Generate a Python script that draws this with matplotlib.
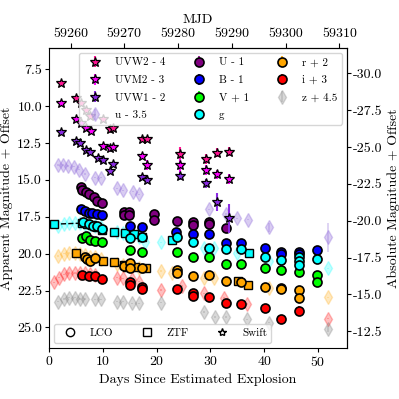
import matplotlib
matplotlib.use("Agg")
import matplotlib.pyplot as plt
import numpy as np
from matplotlib.ticker import FuncFormatter, MultipleLocator
from matplotlib.lines import Line2D

plt.rcParams['font.family'] = 'serif'
plt.rcParams['font.serif'] = ['cmr10']
plt.rcParams['mathtext.fontset'] = 'cm'
plt.rcParams['axes.formatter.use_mathtext'] = True
plt.rcParams['axes.unicode_minus'] = False

MJD0 = 59256.0
DM = 37.77

# ---------------- Swift (stars) ----------------
w2_days = [2.2, 5.0, 5.9, 6.9, 7.7, 10.1, 11.4, 11.9, 17.2, 18.2, 24.4, 29.1, 31.2, 33.4]
w2_mag = [8.45, 9.47, 9.8, 10.26, 10.65, 10.9, 11.57, 11.46, 12.25, 12.25, 13.24, 13.6, 13.15, 13.09]
w2_err = [0.08, 0.08, 0.08, 0.08, 0.08, 0.08, 0.1, 0.1, 0.15, 0.15, 0.5, 0.35, 0.3, 0.3]

m2_days = [2.2, 5.1, 5.9, 6.9, 7.8, 10.1, 11.4, 11.9, 17.2, 18.2, 24.4, 29.1, 31.2, 33.4]
m2_mag = [9.8, 10.87, 11.16, 11.5, 11.68, 12.7, 12.82, 12.75, 13.38, 14.0, 14.0, 14.33, 14.62, 14.94]
m2_err = [0.08, 0.08, 0.08, 0.08, 0.08, 0.1, 0.1, 0.1, 0.12, 0.35, 0.45, 0.35, 0.3, 0.35]

w1_days = [2.2, 5.1, 5.7, 6.9, 7.7, 9.1, 10.1, 11.3, 11.9, 17.2, 18.2, 24.4, 29.1, 31.2, 33.4]
w1_mag = [11.73, 12.36, 12.52, 12.97, 13.09, 13.5, 13.65, 14.37, 13.92, 14.82, 15.0, 14.73, 15.23, 16.48, 17.6]
w1_err = [0.08, 0.08, 0.08, 0.08, 0.08, 0.08, 0.08, 0.1, 0.1, 0.1, 0.1, 0.3, 0.3, 0.6, 1.0]

# ---------------- LCO (circles) ----------------
U_days = [5.95, 6.1, 6.8, 7.5, 8.3, 8.9, 9.9, 13.9, 14.9, 13.9, 14.9, 19.5, 19.5, 23.8, 26.7, 26.7, 29.7, 29.7, 32.9]
U_mag = [15.45, 15.65, 15.85, 15.95, 16.15, 16.4, 16.55, 17.15, 17.15, 17.4, 17.4, 17.3, 17.7, 17.77, 17.83, 18.05, 17.87, 17.99, 18.28]

B_days = [5.95, 6.6, 7.4, 8.0, 8.9, 9.9, 15.0, 17.2, 23.6, 26.7, 29.7, 32.9, 35.7, 40.2, 43.2, 43.2, 46.4, 46.4, 49.9]
B_mag = [17.0, 17.12, 17.22, 17.26, 17.33, 17.38, 18.1, 18.17, 18.5, 18.7, 18.69, 19.26, 19.3, 19.6, 19.91, 20.02, 19.87, 20.02, 19.75]

V_days = [6.1, 6.8, 7.6, 8.6, 9.9, 15.0, 17.2, 23.8, 26.7, 29.7, 32.9, 35.7, 40.2, 43.2, 46.4, 49.9, 49.9]
V_mag = [18.93, 18.83, 19.07, 19.17, 19.24, 19.75, 19.9, 19.9, 20.2, 20.2, 20.7, 20.72, 20.99, 21.1, 21.22, 21.45, 21.9]

g_days = [6.4, 7.4, 8.2, 8.9, 9.9, 15.0, 17.2, 23.8, 26.7, 29.7, 32.9, 35.7, 40.2, 43.2, 46.4, 46.4, 46.4, 49.9]
g_mag = [17.85, 18.0, 18.1, 18.1, 18.3, 18.95, 18.85, 18.85, 19.2, 19.6, 19.7, 19.68, 20.2, 20.43, 20.2, 20.5, 20.8, 20.36]

r_days = [6.6, 7.0, 7.7, 8.6, 13.9, 15.0, 15.0, 17.2, 23.8, 23.8, 26.7, 29.7, 32.9, 35.7, 40.2, 43.2, 43.2, 46.4, 46.4]
r_mag = [20.2, 20.35, 20.5, 20.3, 20.83, 20.65, 20.95, 20.95, 21.1, 21.3, 21.5, 21.45, 21.85, 21.9, 22.28, 22.35, 22.42, 22.46, 23.03]

i_days = [6.1, 7.4, 8.6, 9.9, 15.0, 15.0, 17.2, 17.2, 23.8, 26.7, 26.7, 29.7, 32.9, 35.7, 40.2, 43.2, 46.4]
i_mag = [21.45, 21.5, 21.5, 21.7, 21.9, 22.1, 22.25, 22.4, 22.4, 22.65, 22.9, 22.92, 23.37, 23.43, 23.7, 24.45, 23.87]
i_err = [0.05, 0.05, 0.05, 0.05, 0.05, 0.05, 0.05, 0.05, 0.05, 0.05, 0.05, 0.05, 0.05, 0.05, 0.05, 0.25, 0.3]

# ---------------- ZTF (squares) ----------------
zg_days = [0.85, 6.1, 7.1, 8.0, 8.9, 9.9, 12.1, 14.1, 15.8, 17.3, 22.8, 37.2]
zg_mag = [18.0, 17.93, 18.0, 18.07, 18.16, 18.4, 18.55, 18.6, 18.7, 18.85, 19.1, 19.93]

zr_days = [5.0, 10.0, 12.1, 13.9, 14.5, 16.0, 18.0, 35.2, 37.0]
zr_mag = [19.98, 20.5, 20.6, 20.77, 20.9, 20.92, 20.95, 21.85, 22.1]

# ---------------- other photometry (diamonds) ----------------
du_days = [1.6, 2.6, 3.5, 4.6, 5.5, 6.6, 8.6, 9.6, 12.7, 13.7, 15.7, 16.7, 29.8, 32.9, 34.9, 37.0, 40.9, 51.9]
du_mag = [14.0, 14.0, 14.05, 14.1, 14.3, 14.6, 14.85, 14.85, 15.57, 15.7, 15.8, 15.97, 17.0, 17.3, 17.6, 17.7, 18.2, 18.9]
du_err = [0.05] * 16 + [0.3, 1.0]

dg_days = [1.6, 2.7, 3.8, 4.8, 5.7, 6.6, 7.6, 8.6, 9.6, 12.7, 13.7, 15.5, 16.7, 17.8, 20.9, 28.9, 30.7, 34.9, 40.9, 51.9]
dg_mag = [18.1, 18.0, 17.95, 17.95, 17.95, 18.0, 18.05, 18.1, 18.2, 18.5, 18.6, 18.7, 18.85, 19.23, 19.23, 19.6, 19.6, 19.97, 20.5, 20.99]

dr_days = [1.6, 2.7, 3.8, 4.8, 5.7, 6.6, 7.6, 8.6, 9.6, 12.7, 13.7, 15.5, 16.7, 20.9, 22.8, 28.9, 30.7, 40.9, 51.9]
dr_mag = [20.15, 20.0, 19.95, 19.95, 20.0, 20.1, 20.2, 20.25, 20.35, 20.7, 20.8, 20.85, 21.0, 21.17, 21.33, 21.67, 21.67, 22.35, 22.96]

di_days = [0.85, 1.8, 2.7, 3.8, 4.8, 5.7, 6.6, 7.6, 8.6, 12.7, 13.7, 15.5, 16.7, 20.9, 24.8, 28.9, 32.6, 36.9, 51.9]
di_mag = [21.95, 21.63, 21.4, 21.3, 21.3, 21.3, 21.33, 21.4, 21.45, 21.63, 21.67, 21.72, 21.9, 22.46, 22.2, 22.7, 23.0, 23.43, 24.4]

dz_days = [1.6, 2.7, 3.8, 4.8, 5.7, 6.6, 8.6, 9.6, 12.7, 13.7, 15.5, 16.7, 20.9, 28.9, 30.9, 32.9, 36.9, 40.9, 51.9]
dz_mag = [23.26, 23.07, 22.98, 22.98, 23.07, 23.07, 23.1, 23.1, 23.26, 23.26, 23.37, 23.37, 23.33, 23.97, 24.3, 24.3, 24.45, 24.68, 25.13]
dz_err = [0.05] * 18 + [0.2]

# ---------------- figure ----------------
fig = plt.figure(figsize=(3.99, 3.99), dpi=100)
ax = fig.add_axes([49 / 399, 1 - 348 / 399, 298 / 399, 300 / 399])

C = dict(w2='#ff1493', m2='#ff00ff', w1='#8a2be2', u='#9370db', U='#800080',
         B='#0000ff', V='#00ff00', g='#00ffff', r='#ffa500', i='#ff0000', z='#808080')

def diam(days, mags, col, err=None, alpha=0.35):
    e = err if err is not None else [0.05] * len(days)
    return ax.errorbar(days, mags, yerr=e, fmt='d', ms=7, color=col, mfc=col, mec=col,
                       ecolor=col, elinewidth=1.2, alpha=alpha, zorder=1)

h_u = diam(du_days, du_mag, C['u'], du_err)
diam(dg_days, dg_mag, C['g'], alpha=0.25)
diam(dr_days, dr_mag, C['r'], alpha=0.25)
diam(di_days, di_mag, C['i'], alpha=0.25)
h_z = diam(dz_days, dz_mag, C['z'], dz_err, alpha=0.3)

def star(days, mags, err, col):
    return ax.errorbar(days, mags, yerr=err, fmt='*', ms=7, mfc=col, mec='k', mew=0.9,
                       ecolor=col, elinewidth=1.5, zorder=4)

h_w2 = star(w2_days, w2_mag, w2_err, C['w2'])
h_m2 = star(m2_days, m2_mag, m2_err, C['m2'])
h_w1 = star(w1_days, w1_mag, w1_err, C['w1'])

# ZTF squares
ax.plot(zg_days[:2], zg_mag[:2], ls='--', color='k', lw=1.0, zorder=2)
def square(days, mags, col):
    return ax.errorbar(days, mags, yerr=[0.04] * len(days), fmt='s', ms=6, mfc=col, mec='k',
                       mew=1.0, ecolor=col, elinewidth=1.2, zorder=3)
square(zg_days, zg_mag, C['g'])
square(zr_days, zr_mag, C['r'])

def circ(days, mags, col, err=None):
    e = err if err is not None else [0.04] * len(days)
    return ax.errorbar(days, mags, yerr=e, fmt='o', ms=6.5, mfc=col, mec='k', mew=1.2,
                       ecolor=col, elinewidth=1.2, zorder=3)

h_U = circ(U_days, U_mag, C['U'])
h_B = circ(B_days, B_mag, C['B'])
h_V = circ(V_days, V_mag, C['V'])
h_g = circ(g_days, g_mag, C['g'])
h_r = circ(r_days, r_mag, C['r'])
h_i = circ(i_days, i_mag, C['i'], i_err)

ax.set_xlim(0, 55.4)
ax.set_ylim(26.4, 6.05)
ax.xaxis.set_major_locator(MultipleLocator(10))
ax.yaxis.set_major_locator(MultipleLocator(2.5))
ax.yaxis.set_major_formatter(FuncFormatter(lambda v, p: f"{v:.1f}"))
ax.set_xlabel('Days Since Estimated Explosion', fontsize=10, labelpad=3)
ax.set_ylabel('Apparent Magnitude + Offset', fontsize=10, labelpad=3)
ax.tick_params(labelsize=10, length=3, pad=2)

top = ax.secondary_xaxis('top', functions=(lambda d: d + MJD0, lambda m: m - MJD0))
top.xaxis.set_major_locator(MultipleLocator(10))
top.xaxis.set_major_formatter(FuncFormatter(lambda v, p: f"{v:.0f}"))
top.set_xlabel('MJD', fontsize=10, labelpad=3)
top.tick_params(labelsize=10, length=3.5, pad=2.5)

right = ax.secondary_yaxis('right', functions=(lambda m: m - DM, lambda M: M + DM))
right.yaxis.set_major_locator(MultipleLocator(2.5))
right.yaxis.set_major_formatter(FuncFormatter(lambda v, p: f"{v:.1f}"))
right.set_ylabel('Absolute Magnitude + Offset', fontsize=10, labelpad=3)
right.tick_params(labelsize=10, length=3, pad=1.5)

handles = [h_w2, h_m2, h_w1, h_u, h_U, h_B, h_V, h_g, h_r, h_i, h_z]
labels = ['UVW2 - 4', 'UVM2 - 3', 'UVW1 - 2', 'u - 3.5', 'U - 1', 'B - 1', 'V + 1', 'g',
          'r + 2', 'i + 3', 'z + 4.5']
leg1 = ax.legend(handles, labels, ncol=3, loc='upper right', fontsize=8,
                 bbox_to_anchor=(0.99, 0.99), borderaxespad=0.2, columnspacing=2.0,
                 labelspacing=0.7)
ax.add_artist(leg1)

h_lco = Line2D([], [], ls='none', marker='o', mfc='none', mec='k', ms=6)
h_ztf = Line2D([], [], ls='none', marker='s', mfc='none', mec='k', ms=6)
h_sw = Line2D([], [], ls='none', marker='*', mfc='none', mec='k', ms=6)
ax.legend([h_lco, h_ztf, h_sw], ['LCO', 'ZTF', 'Swift'], ncol=3, loc='lower left',
          fontsize=8, bbox_to_anchor=(0.01, 0.01), borderaxespad=0.2, columnspacing=2.0)

fig.savefig('out.png', dpi=100)
